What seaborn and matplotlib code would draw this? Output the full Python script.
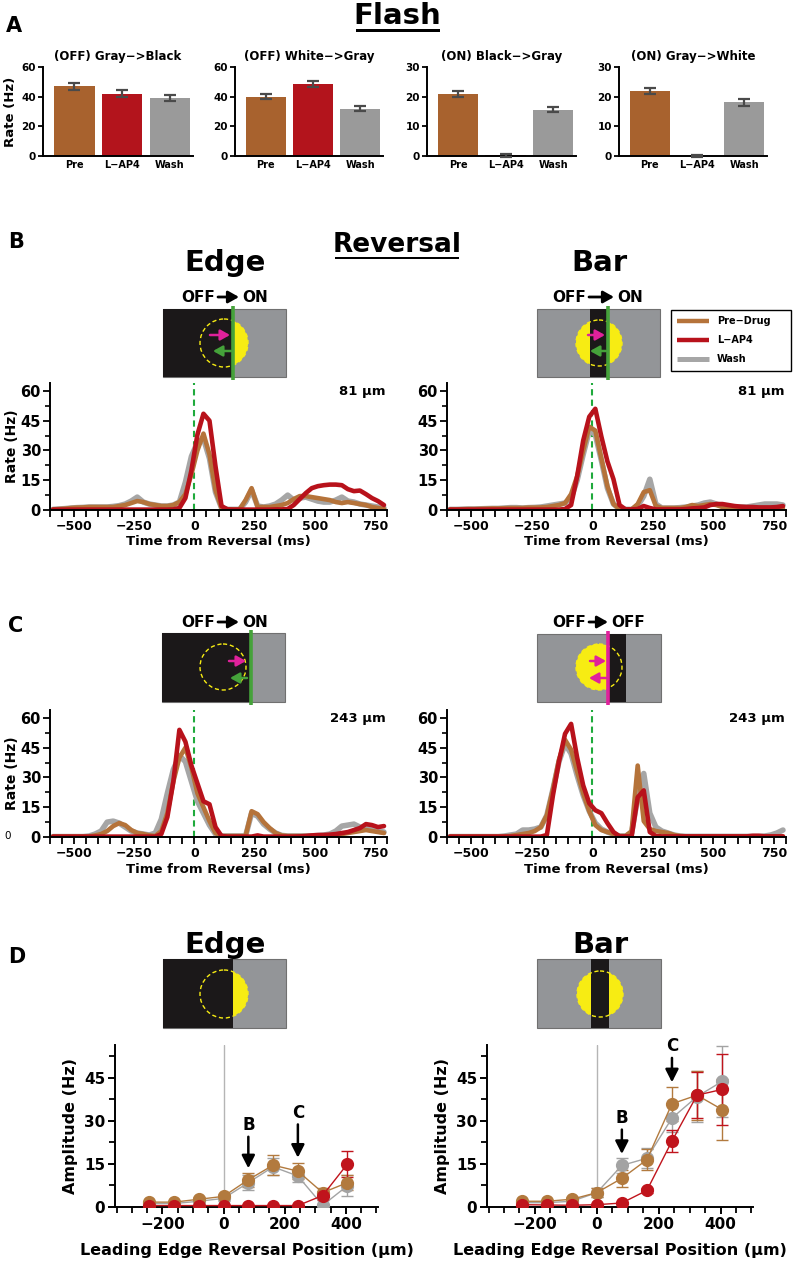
import numpy as np
import pandas as pd
import matplotlib
matplotlib.use("Agg")
import matplotlib.pyplot as plt
import seaborn as sns
from matplotlib.patches import Rectangle, Circle
from matplotlib.ticker import MultipleLocator

# ---------------- data ----------------
conditions = ["Pre", "L\u2212AP4", "Wash"]
flash_titles = ["(OFF) Gray\u2212>Black", "(OFF) White\u2212>Gray",
                "(ON) Black\u2212>Gray", "(ON) Gray\u2212>White"]
flash_means = [[47.0, 42.0, 39.0], [40.0, 48.5, 32.0], [20.8, 0.2, 15.6], [21.9, 0.0, 18.1]]
flash_sem = [[2.2, 2.2, 2.0], [1.5, 2.0, 1.7], [1.0, 0.6, 0.8], [0.9, 0.2, 1.1]]
flash_ymax = [60, 60, 30, 30]

time_bins = np.arange(-587.5, 800, 25)  # 25 ms bin centres

edge81_pre = [0.3, 0.5, 0.7, 1.0, 1.2, 1.3, 1.5, 1.5,
              1.5, 1.5, 1.5, 2.0, 2.5, 3.5, 4.5, 4.0,
              3.0, 2.5, 2.0, 2.0, 2.5, 4.0, 8.0, 18.0,
              30.0, 38.5, 28.0, 10.0, 1.0, 0.3, 0.3, 0.3,
              5.0, 11.0, 1.5, 1.5, 1.5, 2.0, 2.5, 3.5,
              5.5, 7.0, 7.0, 6.5, 6.0, 5.5, 5.0, 4.0,
              3.5, 4.0, 3.5, 3.0, 2.5, 1.5, 1.0, 0.5]
edge81_wash = [0.3, 0.5, 0.7, 1.0, 1.2, 1.3, 1.5, 1.5,
               1.5, 1.5, 1.8, 2.2, 3.0, 4.5, 6.5, 4.0,
               3.0, 2.5, 2.0, 2.0, 2.5, 4.0, 14.0, 27.0,
               34.0, 36.0, 26.0, 9.0, 1.0, 0.3, 0.3, 0.3,
               4.0, 10.0, 2.0, 1.5, 2.0, 3.0, 5.0, 7.5,
               5.0, 6.0, 6.5, 5.5, 4.5, 4.0, 4.0, 5.0,
               6.5, 4.5, 4.0, 3.0, 2.5, 2.0, 1.5, 1.0]
edge81_lap4 = [0.2, 0.2, 0.2, 0.2, 0.2, 0.2, 0.2, 0.2,
               0.2, 0.2, 0.2, 0.2, 0.2, 0.2, 0.2, 0.2,
               0.2, 0.2, 0.2, 0.2, 0.3, 1.0, 6.0, 20.0,
               38.0, 48.5, 45.0, 22.0, 2.0, 0.3, 0.2, 0.2,
               0.2, 0.2, 0.2, 0.2, 0.2, 0.3, 0.3, 0.5,
               2.5, 5.5, 8.5, 11.0, 12.0, 12.5, 12.8, 12.8,
               12.5, 10.5, 9.5, 9.8, 8.0, 6.0, 4.5, 2.5]

bar81_pre = [0.3, 0.3, 0.4, 0.5, 0.5, 0.6, 0.7, 0.8,
             0.8, 0.9, 1.0, 1.0, 1.0, 1.2, 1.2, 1.3,
             1.5, 2.0, 2.5, 3.5, 8.0, 17.0, 30.0, 42.0,
             40.0, 26.0, 12.0, 3.0, 0.5, 0.3, 0.3, 3.0,
             9.0, 10.0, 2.0, 1.0, 1.0, 1.0, 1.0, 1.5,
             2.5, 2.0, 2.5, 3.0, 2.5, 1.5, 1.0, 1.0,
             1.0, 1.0, 1.0, 1.0, 1.0, 1.0, 1.0, 1.0]
bar81_wash = [0.3, 0.3, 0.4, 0.5, 0.5, 0.6, 0.7, 0.8,
              0.8, 1.0, 1.2, 1.2, 1.0, 1.2, 1.3, 1.5,
              2.0, 2.5, 3.0, 3.5, 6.0, 15.0, 28.0, 40.0,
              38.0, 25.0, 11.0, 3.0, 0.5, 0.3, 0.3, 2.0,
              7.0, 15.5, 3.0, 1.0, 1.0, 1.0, 1.2, 1.5,
              2.0, 2.5, 3.5, 4.0, 3.0, 2.0, 1.5, 1.5,
              1.5, 1.5, 2.0, 2.5, 3.0, 3.0, 3.0, 2.5]
bar81_lap4 = [0.2, 0.2, 0.2, 0.2, 0.2, 0.2, 0.2, 0.2,
              0.2, 0.2, 0.2, 0.2, 0.2, 0.2, 0.2, 0.2,
              0.2, 0.2, 0.2, 0.5, 2.5, 17.0, 35.0, 47.0,
              51.0, 37.0, 24.5, 15.5, 2.5, 0.3, 0.3, 0.5,
              2.0, 1.0, 0.3, 0.3, 0.3, 0.3, 0.3, 0.5,
              0.8, 1.0, 1.3, 2.5, 3.0, 3.0, 2.5, 2.0,
              1.7, 1.5, 1.5, 1.3, 1.3, 1.3, 1.5, 2.0]

edge243_pre = [0.2, 0.2, 0.2, 0.2, 0.2, 0.2, 0.3, 0.8,
               1.5, 3.0, 5.5, 7.0, 6.0, 3.5, 2.0, 1.5,
               0.8, 0.5, 3.0, 12.0, 28.0, 40.0, 45.0, 35.0,
               22.0, 15.0, 8.0, 2.0, 0.5, 0.5, 0.5, 0.5,
               0.5, 13.0, 11.5, 7.5, 4.5, 2.0, 0.8, 0.5,
               0.5, 0.5, 0.5, 0.5, 0.5, 0.6, 0.7, 0.8,
               1.5, 2.0, 2.5, 3.0, 3.5, 3.0, 2.5, 2.0]
edge243_wash = [0.2, 0.2, 0.2, 0.2, 0.2, 0.2, 0.5, 1.5,
                3.0, 7.5, 8.0, 7.0, 5.0, 3.0, 2.0, 1.5,
                1.0, 2.0, 9.0, 22.0, 34.0, 41.0, 38.0, 28.0,
                18.0, 12.0, 6.0, 1.5, 0.5, 0.5, 0.5, 0.5,
                0.5, 12.0, 10.5, 6.5, 4.0, 2.0, 0.8, 0.5,
                0.5, 0.5, 0.5, 0.6, 0.7, 1.0, 1.5, 3.0,
                5.5, 6.0, 6.5, 5.0, 4.5, 4.0, 3.0, 2.5]
edge243_lap4 = [0.2, 0.2, 0.2, 0.2, 0.2, 0.2, 0.2, 0.2,
                0.2, 0.2, 0.2, 0.2, 0.2, 0.2, 0.2, 0.2,
                0.2, 0.2, 1.5, 10.0, 28.0, 54.0, 48.0, 36.0,
                27.0, 18.0, 16.5, 5.0, 0.5, 0.2, 0.2, 0.2,
                0.2, 0.2, 0.8, 0.2, 0.2, 0.2, 0.2, 0.2,
                0.2, 0.3, 0.5, 0.8, 1.0, 1.0, 1.2, 1.5,
                2.0, 2.5, 3.5, 4.5, 6.5, 6.0, 5.0, 5.5]

bar243_pre = [0.2, 0.2, 0.2, 0.2, 0.2, 0.2, 0.2, 0.2,
              0.2, 0.3, 0.5, 1.0, 1.5, 2.0, 3.0, 5.0,
              11.0, 24.0, 39.0, 49.0, 44.0, 33.0, 22.0, 13.0,
              6.0, 3.5, 2.5, 1.5, 0.5, 0.5, 3.0, 36.0,
              8.0, 4.0, 3.0, 2.5, 2.0, 1.0, 0.5, 0.3,
              0.3, 0.3, 0.3, 0.3, 0.3, 0.3, 0.3, 0.3,
              0.3, 0.3, 0.3, 0.3, 0.3, 0.3, 0.3, 0.3]
bar243_wash = [0.2, 0.2, 0.2, 0.2, 0.2, 0.2, 0.2, 0.2,
               0.2, 0.5, 1.0, 1.5, 3.5, 3.5, 4.0, 5.0,
               11.0, 24.0, 38.0, 47.0, 42.0, 31.0, 21.0, 13.0,
               7.0, 4.0, 2.5, 1.5, 0.5, 0.5, 2.0, 20.0,
               32.0, 12.0, 5.0, 3.0, 2.0, 1.0, 0.5, 0.3,
               0.3, 0.3, 0.3, 0.3, 0.3, 0.3, 0.3, 0.3,
               0.3, 0.3, 0.3, 0.3, 0.5, 1.0, 2.0, 3.5]
bar243_lap4 = [0.2, 0.2, 0.2, 0.2, 0.2, 0.2, 0.2, 0.2,
               0.2, 0.2, 0.2, 0.2, 0.2, 0.2, 0.2, 0.2,
               1.0, 21.0, 38.0, 52.0, 57.0, 40.0, 26.0, 17.0,
               13.5, 12.0, 7.0, 2.5, 0.3, 0.3, 0.3, 20.0,
               23.5, 2.5, 0.5, 0.3, 0.3, 0.3, 0.3, 0.3,
               0.3, 0.3, 0.3, 0.3, 0.3, 0.3, 0.3, 0.3,
               0.3, 0.3, 0.6, 0.6, 0.3, 0.3, 0.3, 0.3]

positions = [-243, -162, -81, 0, 81, 162, 243, 324, 405]
edge_pre = [1.7, 1.7, 2.7, 3.7, 9.5, 14.6, 12.5, 5.0, 8.5]
edge_pre_err = [0.5, 0.5, 0.7, 1.0, 2.5, 3.5, 2.8, 1.5, 2.5]
edge_lap4 = [0.5, 0.5, 0.5, 0.5, 0.5, 0.5, 0.5, 4.0, 15.0]
edge_lap4_err = [0.2, 0.2, 0.2, 0.2, 0.2, 0.2, 0.2, 1.5, 4.5]
edge_wash = [1.2, 1.2, 2.0, 3.0, 8.5, 14.0, 10.8, 0.6, 7.4]
edge_wash_err = [0.5, 0.5, 0.7, 1.0, 2.5, 3.0, 2.0, 0.5, 3.6]

bar_pre = [2.0, 2.0, 2.7, 5.0, 10.0, 16.5, 36.0, 39.0, 34.0]
bar_pre_err = [0.5, 0.5, 0.7, 1.5, 3.0, 3.7, 6.0, 8.5, 10.5]
bar_lap4 = [0.8, 0.7, 0.6, 0.8, 1.4, 5.8, 23.0, 39.0, 41.0]
bar_lap4_err = [0.2, 0.2, 0.2, 0.2, 0.3, 1.0, 3.8, 8.0, 12.5]
bar_wash = [1.5, 1.5, 2.0, 5.0, 14.5, 17.0, 31.0, 38.5, 43.8]
bar_wash_err = [0.5, 0.5, 0.7, 1.5, 2.5, 3.5, 5.0, 9.0, 12.5]

# ---------------- style ----------------
sns.set_style("ticks", {"axes.edgecolor": "black", "xtick.color": "black",
                        "ytick.color": "black", "text.color": "black",
                        "axes.labelcolor": "black"})
plt.rcParams["font.family"] = ["DejaVu Sans"]
plt.rcParams["font.weight"] = "bold"
plt.rcParams["axes.labelweight"] = "bold"
plt.rcParams["axes.titleweight"] = "bold"
plt.rcParams["axes.linewidth"] = 1.4

BAR_COLORS = {"Pre": "#A8622E", "L\u2212AP4": "#B3141C", "Wash": "#9A9A9A"}
LINE_COLORS = {"Pre-Drug": "#B5733A", "L-AP4": "#B8121B", "Wash": "#A6A6A6"}
DOT_COLORS = {"Pre-Drug": "#B27A3E", "L-AP4": "#C0141C", "Wash": "#A3A3A3"}

W, H = 794, 1280
fig = plt.figure(figsize=(W / 100, H / 100), dpi=100)
fig.patch.set_facecolor("white")


def add_ax(x0, y0, x1, y1):
    return fig.add_axes([x0 / W, 1 - y1 / H, (x1 - x0) / W, (y1 - y0) / H])


# ---------------- Panel A ----------------
A_boxes = [(43, 67, 193, 156), (235, 67, 383, 156), (427, 67, 576, 156), (619, 67, 767, 156)]
for i, box in enumerate(A_boxes):
    ax = add_ax(*box)
    df = pd.DataFrame({"cond": conditions, "rate": flash_means[i]})
    sns.barplot(data=df, x="cond", y="rate", hue="cond", order=conditions,
                hue_order=conditions, palette=BAR_COLORS, width=0.85,
                saturation=1, legend=False, linewidth=0, ax=ax)
    ax.errorbar(range(3), flash_means[i], yerr=flash_sem[i], fmt="none",
                ecolor="#4a4a4a", elinewidth=1.6, capsize=4.5, capthick=1.6,
                clip_on=False, zorder=5)
    ax.set_xlim(-0.65, 2.48)
    ax.set_ylim(0, flash_ymax[i])
    ax.set_yticks(np.linspace(0, flash_ymax[i], 4))
    ax.set_yticklabels([f"{v:.0f}" for v in np.linspace(0, flash_ymax[i], 4)])
    ax.tick_params(axis="y", labelsize=7.5, length=3.5, width=1.3, pad=1.5)
    ax.tick_params(axis="x", labelsize=7, length=0, pad=3)
    sns.despine(ax=ax)
    ax.set_title(flash_titles[i], fontsize=8.5, fontweight="bold", pad=5)
    ax.set_xlabel("")
    ax.set_ylabel("Rate (Hz)" if i == 0 else "", fontsize=9.5, labelpad=3)


# ---------------- Panels B, C ----------------
def time_panel(box, pre, lap, wash, um_label, ylabel):
    ax = add_ax(*box)
    df = pd.DataFrame({
        "time": np.concatenate([time_bins] * 3),
        "rate": np.concatenate([wash, pre, lap]),
        "cond": ["Wash"] * len(time_bins) + ["Pre-Drug"] * len(time_bins) + ["L-AP4"] * len(time_bins),
    })
    ax.axvline(0, color="#1faa3c", lw=1.5, ls=(0, (3, 2)), zorder=1.5)
    for cond, lw in [("Wash", 4.0), ("Pre-Drug", 3.3), ("L-AP4", 3.3)]:
        sns.lineplot(data=df[df["cond"] == cond], x="time", y="rate",
                     color=LINE_COLORS[cond], lw=lw, errorbar=None,
                     solid_joinstyle="round", solid_capstyle="round", ax=ax)
    ax.set_xlim(-600, 800)
    ax.set_ylim(0, 64)
    ax.set_xticks([-500, -250, 0, 250, 500, 750])
    ax.xaxis.set_minor_locator(MultipleLocator(50))
    ax.set_yticks([0, 15, 30, 45, 60])
    ax.yaxis.set_minor_locator(MultipleLocator(7.5))
    ax.tick_params(axis="x", which="both", labelsize=9, length=5, width=1.3, pad=2)
    ax.tick_params(axis="y", which="major", labelsize=10.5, length=5, width=1.3, pad=1.5)
    ax.tick_params(axis="y", which="minor", length=3.5, width=1.2)
    sns.despine(ax=ax)
    ax.set_xlabel("Time from Reversal (ms)", fontsize=9.5, labelpad=2)
    ax.set_ylabel("Rate (Hz)" if ylabel else "", fontsize=10, labelpad=1)
    ax.text(0.995, 0.93, um_label, transform=ax.transAxes, ha="right", va="center",
            fontsize=9.5, fontweight="bold")
    return ax


time_panel((50, 383, 387, 510), edge81_pre, edge81_lap4, edge81_wash, "81 \u00b5m", True)
time_panel((447, 383, 786, 510), bar81_pre, bar81_lap4, bar81_wash, "81 \u00b5m", False)
time_panel((50, 710, 387, 837), edge243_pre, edge243_lap4, edge243_wash, "243 \u00b5m", True)
time_panel((447, 710, 786, 837), bar243_pre, bar243_lap4, bar243_wash, "243 \u00b5m", False)


# ---------------- Panel D ----------------
def amp_panel(box, pre, pre_e, lap, lap_e, wash, wash_e, marks):
    ax = add_ax(*box)
    ax.axvline(0, color="#b5b5b5", lw=1.0, zorder=0)
    for cond, vals, errs in [("Wash", wash, wash_e), ("Pre-Drug", pre, pre_e), ("L-AP4", lap, lap_e)]:
        col = DOT_COLORS[cond]
        ax.errorbar(positions, vals, yerr=errs, fmt="none", ecolor=col, elinewidth=1.0,
                    capsize=4, capthick=1.0, zorder=2)
        df = pd.DataFrame({"pos": positions, "amp": vals})
        sns.lineplot(data=df, x="pos", y="amp", color=col, lw=1.0, marker="o",
                     markersize=9.5, markeredgewidth=0, errorbar=None, ax=ax, zorder=3)
    for label, x, yt, y0, y1 in marks:
        ax.annotate("", xy=(x, y1), xytext=(x, y0),
                    arrowprops=dict(arrowstyle="-|>,head_length=0.55,head_width=0.28",
                                    lw=1.8, color="black", mutation_scale=14,
                                    shrinkA=0, shrinkB=0), zorder=6)
        ax.text(x, yt, label, ha="center", va="center", fontsize=12, fontweight="bold")
    ax.set_xlim(-355, 505)
    ax.set_ylim(0, 56.5)
    ax.set_xticks([-200, 0, 200, 400])
    ax.xaxis.set_minor_locator(MultipleLocator(50))
    ax.set_yticks([0, 15, 30, 45])
    ax.yaxis.set_minor_locator(MultipleLocator(7.5))
    ax.tick_params(axis="both", which="major", labelsize=11, length=5, width=1.4, pad=2)
    ax.tick_params(axis="both", which="minor", length=4, width=1.3)
    sns.despine(ax=ax)
    ax.set_xlabel("Leading Edge Reversal Position (\u00b5m)", fontsize=11.5, labelpad=8)
    ax.set_ylabel("Amplitude (Hz)", fontsize=11.5, labelpad=4)
    return ax


amp_panel((115, 1045, 378, 1207), edge_pre, edge_pre_err, edge_lap4, edge_lap4_err,
          edge_wash, edge_wash_err,
          [("B", 81, 28.6, 24.5, 13.5), ("C", 243, 32.8, 28.8, 17.2)])
amp_panel((487, 1045, 753, 1207), bar_pre, bar_pre_err, bar_lap4, bar_lap4_err,
          bar_wash, bar_wash_err,
          [("B", 81, 31.0, 27.0, 18.5), ("C", 243, 56.0, 52.0, 43.5)])

# ---------------- overlay (pixel coordinates) ----------------
ov = fig.add_axes([0, 0, 1, 1], zorder=10)
ov.set_xlim(0, W)
ov.set_ylim(H, 0)
ov.axis("off")

YELLOW = "#F7EC13"
BLACK = "#1b1819"
GRAY = "#939598"
MAGENTA = "#E0219B"
GREEN = "#45A23A"


def arrow(x0, y0, x1, y1, color, lw=1.8, ms=7):
    ov.annotate("", xy=(x1, y1), xytext=(x0, y0),
                arrowprops=dict(arrowstyle="-|>,head_length=0.8,head_width=0.45",
                                color=color, lw=lw, shrinkA=0, shrinkB=0,
                                mutation_scale=ms))


def stimulus(x0, y0, x1, y1, black_span, cx, cy, r, line=None, arrows=()):
    bg = Rectangle((x0, y0), x1 - x0, y1 - y0, facecolor=GRAY, edgecolor="#707070", lw=0.8)
    ov.add_patch(bg)
    circ = Circle((cx, cy), r, facecolor=YELLOW, edgecolor="none")
    ov.add_patch(circ)
    circ.set_clip_path(bg)
    ov.add_patch(Rectangle((black_span[0], y0), black_span[1] - black_span[0], y1 - y0,
                           facecolor=BLACK, edgecolor="none"))
    dc = Circle((cx, cy), r, fill=False, edgecolor=YELLOW, lw=1.0, ls=(0, (3, 2)))
    ov.add_patch(dc)
    if line is not None:
        lx, lcol = line
        ov.plot([lx, lx], [y0 - 3, y1 + 3], color=lcol, lw=2.6, solid_capstyle="butt")
    for (ax0, ay0, ax1, ay1, col) in arrows:
        arrow(ax0, ay0, ax1, ay1, col)


def off_on(x_off_end, x_on_start, y, right_word):
    ov.text(x_off_end, y, "OFF", ha="right", va="baseline", fontsize=11, fontweight="bold")
    ov.text(x_on_start, y, right_word, ha="left", va="baseline", fontsize=11, fontweight="bold")
    arrow(x_off_end + 3, y - 5, x_on_start - 3, y - 5, "black", lw=2.0, ms=8)


# titles
ov.text(397, 24, "Flash", ha="center", va="baseline", fontsize=21, fontweight="bold")
ov.add_patch(Rectangle((356, 29), 84, 2.6, facecolor="black", edgecolor="none"))
ov.text(397, 252, "Reversal", ha="center", va="baseline", fontsize=19, fontweight="bold")
ov.add_patch(Rectangle((335, 256.5), 124, 2.6, facecolor="black", edgecolor="none"))

for lab, x, y in [("A", 6, 32), ("B", 8, 248), ("C", 8, 632), ("D", 8, 963)]:
    ov.text(x, y, lab, ha="left", va="baseline", fontsize=15, fontweight="bold")
ov.text(8, 836, "0", ha="center", va="center", fontsize=7.5, fontweight="normal")

ov.text(225, 271, "Edge", ha="center", va="baseline", fontsize=21, fontweight="bold")
ov.text(599, 271, "Bar", ha="center", va="baseline", fontsize=21, fontweight="bold")
ov.text(225, 953, "Edge", ha="center", va="baseline", fontsize=21, fontweight="bold")
ov.text(600, 953, "Bar", ha="center", va="baseline", fontsize=21, fontweight="bold")

off_on(215, 242, 302, "ON")
off_on(586, 617, 302, "ON")
off_on(215, 242, 627, "ON")
off_on(586, 611, 627, "OFF")

# B stimuli
stimulus(163, 309, 286, 377, (163, 233), 224, 343, 24, line=(233, GREEN),
         arrows=[(210, 335, 230, 335, MAGENTA), (231, 351, 213, 351, GREEN)])
stimulus(537, 309, 660, 377, (590, 607), 599, 343, 23, line=(608, GREEN),
         arrows=[(588, 335, 605, 335, MAGENTA), (606, 351, 590, 351, GREEN)])
# C stimuli
stimulus(162, 633, 285, 702, (162, 251), 223, 667, 23, line=(251, GREEN),
         arrows=[(229, 661, 246, 661, MAGENTA), (247, 678, 230, 678, GREEN)])
stimulus(537, 634, 661, 702, (608, 626), 599, 667, 23, line=(608, MAGENTA),
         arrows=[(590, 661, 606, 661, MAGENTA), (606, 678, 589, 678, MAGENTA)])
# D stimuli
stimulus(163, 959, 286, 1028, (163, 233), 224, 994, 24)
stimulus(537, 959, 661, 1028, (591, 609), 600, 994, 23)

# legend box
ov.add_patch(Rectangle((671, 310), 120, 61, facecolor="white", edgecolor="black", lw=1.0))
for (name, col, lw), y in zip([("Pre\u2212Drug", LINE_COLORS["Pre-Drug"], 3.2),
                               ("L\u2212AP4", LINE_COLORS["L-AP4"], 3.2),
                               ("Wash", LINE_COLORS["Wash"], 3.6)], [321, 340, 359]):
    ov.plot([677, 709], [y, y], color=col, lw=lw, solid_capstyle="butt")
    ov.text(717, y, name, ha="left", va="center", fontsize=7, fontweight="bold")

fig.savefig("out.png", dpi=100, facecolor="white")
